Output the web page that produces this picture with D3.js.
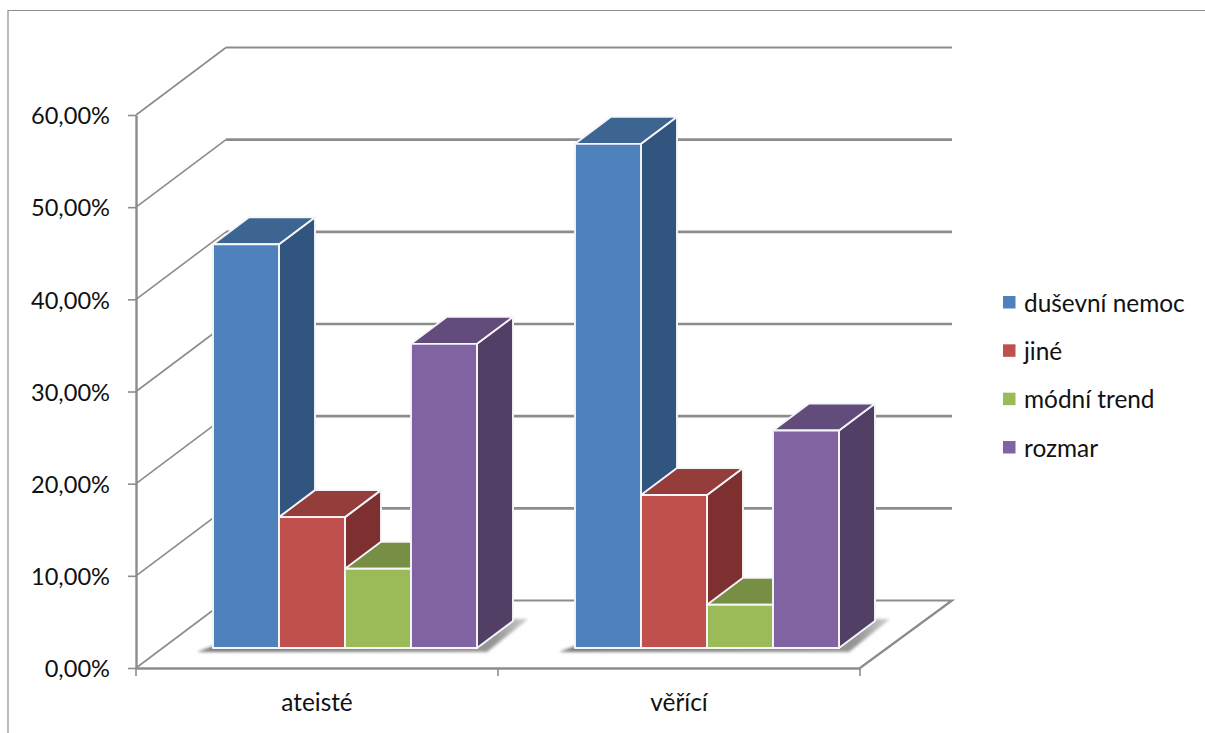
<!DOCTYPE html>
<html>
<head>
<meta charset="utf-8">
<script src="https://cdn.jsdelivr.net/npm/d3@7"></script>
<style>
  html, body { margin: 0; padding: 0; background: #fff; }
  svg { display: block; }
  text { font-family: Lato, "Open Sans", sans-serif; fill: #111; }
</style>
</head>
<body>
<svg id="chart" width="1205" height="733"></svg>
<script>
// Values in percent, one array per series, ordered as the categories.
const categories = ["ateisté", "věřící"];
const seriesNames = ["duševní nemoc", "jiné", "módní trend", "rozmar"];
const dusevniNemoc = [43.8, 54.7];
const jine = [14.2, 16.6];
const modniTrend = [8.6, 4.7];
const rozmar = [33.0, 23.6];
const seriesValues = [dusevniNemoc, jine, modniTrend, rozmar];
const yTicks = [0, 10, 20, 30, 40, 50, 60];

// Front, top and side shades for each series.
const frontColors = ["#4f81bd", "#c0504d", "#9bbb59", "#8064a2"];
const topColors = ["#3d6592", "#943d3b", "#778f45", "#624c7c"];
const sideColors = ["#325580", "#7d302f", "#687d3c", "#523f66"];

const axisGray = "#8c8c8c";
const svg = d3.select("#chart");

const plot = { left: 136, right: 860, top: 115, bottom: 668 };
const wall = { dx: 90, dy: -67.5 };    // offset of the back wall from the front plane
const barDepth = { dx: 36, dy: -27 };  // extrusion of each bar
const barInset = { dx: 28, dy: -20 };  // distance of the bar fronts from the front plane
const groupWidth = 264;

const y = d3.scaleLinear().domain([0, 60]).range([plot.bottom, plot.top]);
const x = d3.scaleBand().domain(categories).range([plot.left, plot.right]);
const inner = d3.scaleBand().domain(seriesNames).range([0, groupWidth]);

const pts = a => a.map(p => p.join(",")).join(" ");

// Outer frame, cut off along the right and bottom edges
svg.append("path")
  .attr("d", d3.line()([[8, 733], [8, 10.5], [1205, 10.5]]))
  .attr("fill", "none").attr("stroke", "#8e8e8e").attr("stroke-width", 1.2);

// Wall gridlines and their diagonals on the side wall
const grid = svg.append("g").attr("fill", "none").attr("stroke", axisGray);
yTicks.forEach(t => {
  if (t > 0) {
    grid.append("path")
      .attr("d", d3.line()([[plot.left + wall.dx, y(t) + wall.dy], [plot.right + wall.dx + 2, y(t) + wall.dy]]))
      .attr("stroke-width", t === 60 ? 2 : 2.6);
  }
  grid.append("path")
    .attr("d", d3.line()([[plot.left, y(t)], [plot.left + wall.dx, y(t) + wall.dy]]))
    .attr("stroke-width", 1.6);
});

// Floor outline
svg.append("path")
  .attr("d", d3.line()([
    [plot.left + wall.dx, y(0) + wall.dy],
    [plot.right + wall.dx + 2, y(0) + wall.dy],
    [plot.right, y(0)]
  ]))
  .attr("fill", "none").attr("stroke", axisGray).attr("stroke-width", 2.2);

// Soft shadow cast by each bar group on the floor
const defs = svg.append("defs");
defs.append("filter").attr("id", "soft")
  .attr("x", "-10%").attr("y", "-20%").attr("width", "120%").attr("height", "140%")
  .append("feGaussianBlur").attr("stdDeviation", 1.8);
const shadeGrad = defs.append("linearGradient").attr("id", "floorShade")
  .attr("x1", 0).attr("x2", 1).attr("y1", 0).attr("y2", 0);
shadeGrad.append("stop").attr("offset", "0").attr("stop-color", "#7a7a7a");
shadeGrad.append("stop").attr("offset", "0.9").attr("stop-color", "#969696");
shadeGrad.append("stop").attr("offset", "1").attr("stop-color", "#d0d0d0");

categories.forEach(c => {
  const x0 = x(c) + (x.bandwidth() - groupWidth) / 2 + barInset.dx;
  const x1 = x0 + groupWidth;
  const base = y(0) + barInset.dy;
  svg.append("polygon")
    .attr("points", pts([
      [x0 - 16, base + 4], [x1 + 10, base + 4],
      [x1 + barDepth.dx + 15, base + barDepth.dy - 2],
      [x1 + barDepth.dx, base + barDepth.dy - 2],
      [x1, base - 2], [x0, base - 2]
    ]))
    .attr("fill", "url(#floorShade)")
    .attr("filter", "url(#soft)");
});

// Bars are painted left to right so each one overlaps its neighbour's side face
const bars = svg.append("g")
  .attr("stroke", "#f6f6f8").attr("stroke-width", 1.9).attr("stroke-linejoin", "round");

categories.forEach((c, ci) => {
  const groupLeft = x(c) + (x.bandwidth() - groupWidth) / 2 + barInset.dx;
  const base = y(0) + barInset.dy;
  const g = bars.append("g").attr("class", "group");
  seriesNames.forEach((s, si) => {
    const left = groupLeft + inner(s);
    const right = left + inner.bandwidth();
    const top = base - (y(0) - y(seriesValues[si][ci]));
    const d = barDepth;
    g.append("polygon").attr("fill", sideColors[si]).attr("points", pts([
      [right, top], [right + d.dx, top + d.dy], [right + d.dx, base + d.dy], [right, base]
    ]));
    g.append("polygon").attr("fill", topColors[si]).attr("points", pts([
      [left, top], [right, top], [right + d.dx, top + d.dy], [left + d.dx, top + d.dy]
    ]));
    g.append("polygon").attr("fill", frontColors[si]).attr("points", pts([
      [left, top], [right, top], [right, base], [left, base]
    ]));
  });
});

// Value axis
const numberLocale = d3.formatLocale({ decimal: ",", thousands: " ", grouping: [3], currency: ["", ""] });
const pct = numberLocale.format(".2f");
const yAxis = svg.append("g")
  .attr("transform", `translate(${plot.left},0)`)
  .call(d3.axisLeft(y).tickValues(yTicks).tickSize(8).tickSizeOuter(0).tickPadding(18).tickFormat(v => pct(v) + "%"));
yAxis.select(".domain").attr("stroke", axisGray).attr("stroke-width", 2.4);
yAxis.selectAll(".tick line").attr("stroke", axisGray).attr("stroke-width", 1.6);
yAxis.selectAll("text").style("font-size", "23.6px").attr("fill", "#111").attr("dy", "0.37em");

// Category axis: separators sit on the band edges, labels on the band centres
const xAxis = svg.append("g")
  .attr("transform", `translate(0,${plot.bottom})`)
  .call(d3.axisBottom(x).tickSize(0).tickSizeOuter(0).tickPadding(26));
xAxis.select(".domain").attr("stroke", axisGray).attr("stroke-width", 2.4);
xAxis.selectAll("text").style("font-size", "24.4px").attr("fill", "#111");
const edges = categories.map(c => x(c)).concat([plot.right]);
xAxis.selectAll("line.edge").data(edges).join("line")
  .attr("class", "edge")
  .attr("x1", d => d).attr("x2", d => d).attr("y1", 0).attr("y2", 8)
  .attr("stroke", axisGray).attr("stroke-width", 1.6);

// Legend
const legendY = d3.scalePoint().domain(seriesNames).range([302.5, 447.5]);
const legend = svg.append("g");
seriesNames.forEach((s, i) => {
  legend.append("rect")
    .attr("x", 1003).attr("y", legendY(s) - 6.5)
    .attr("width", 12.5).attr("height", 12.5)
    .attr("fill", frontColors[i]);
  legend.append("text")
    .attr("x", 1024).attr("y", legendY(s) + 9)
    .style("font-size", "24.4px")
    .text(s);
});
</script>
</body>
</html>
